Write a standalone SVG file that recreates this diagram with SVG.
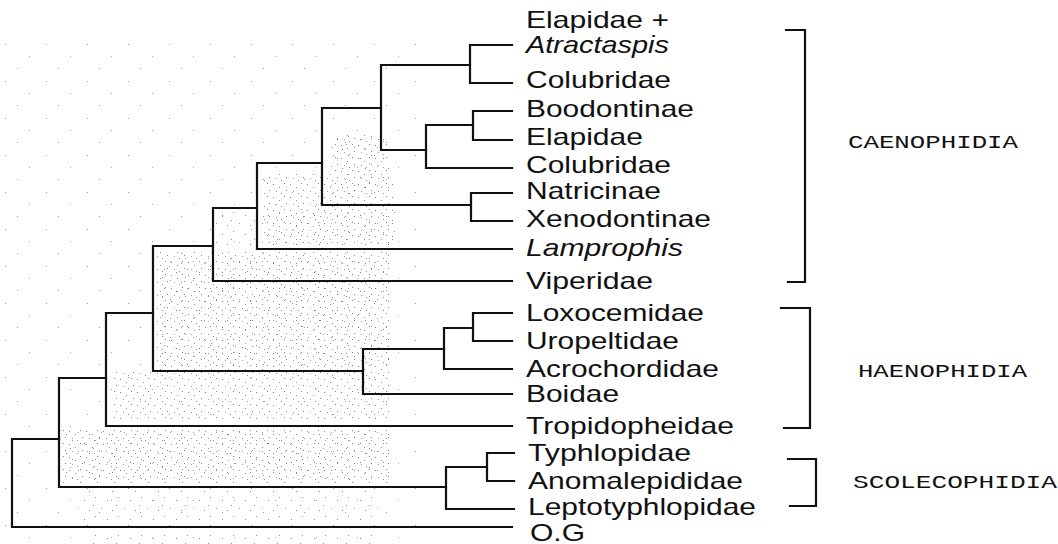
<svg xmlns="http://www.w3.org/2000/svg" width="1058" height="544" viewBox="0 0 1058 544">
<defs>
<style>
.br{fill:none;stroke:#111;stroke-width:2.2;stroke-linejoin:miter;stroke-linecap:square}
.lf{font-family:"Liberation Sans",Arial,sans-serif;font-size:24px;fill:#111}
.it{font-style:italic}
.cl{font-family:"Liberation Mono","Courier New",monospace;font-size:18px;fill:#111}
</style>
<pattern id="d1" width="17" height="13" patternUnits="userSpaceOnUse">
<rect x="1" y="2" width="1" height="1" fill="#666"/><rect x="7" y="5" width="1" height="1" fill="#777"/><rect x="12" y="1" width="1" height="1" fill="#666"/><rect x="4" y="9" width="1" height="1" fill="#888"/><rect x="14" y="8" width="1" height="1" fill="#666"/><rect x="9" y="11" width="1" height="1" fill="#777"/>
</pattern>
<pattern id="d2" width="23" height="19" patternUnits="userSpaceOnUse">
<rect x="3" y="3" width="1" height="1" fill="#777"/><rect x="15" y="6" width="1" height="1" fill="#666"/><rect x="9" y="14" width="1" height="1" fill="#888"/><rect x="20" y="16" width="1" height="1" fill="#666"/><rect x="1" y="11" width="1" height="1" fill="#777"/>
</pattern>
<pattern id="d3" width="41" height="37" patternUnits="userSpaceOnUse">
<rect x="5" y="7" width="1" height="1" fill="#999"/><rect x="29" y="19" width="1" height="1" fill="#aaa"/><rect x="17" y="31" width="1" height="1" fill="#999"/>
</pattern>
</defs>
<rect width="1058" height="544" fill="#fff"/>
<g id="stipple">
<path fill="url(#d3)" d="M0,40H420V544H0Z"/>
<g opacity="0.8">
<path fill="url(#d1)" d="M333,133H388V197H333Z M263,172H393V245H263Z M157,250H390V370H157Z M113,372H390V420H113Z M63,430H390V483H63Z"/>
<path fill="url(#d2)" d="M215,212H395V250H215Z M73,490H380V520H73Z M90,532H380V544H90Z M330,135H390V195H330Z M160,255H390V365H160Z M65,432H390V480H65Z"/>
</g>
</g>
<g id="connectors">
<path class="br" d="M512,45H470V83H512"/>
<path class="br" d="M512,111H473V140H512"/>
<path class="br" d="M473,125H426V168H512"/>
<path class="br" d="M470,65H381V150H426"/>
<path class="br" d="M512,193H471V221H512"/>
<path class="br" d="M381,108H322V205H471"/>
<path class="br" d="M322,163H257V249H512"/>
<path class="br" d="M257,208H213V281H512"/>
<path class="br" d="M512,313H473V341H512"/>
<path class="br" d="M473,328H444V369H512"/>
<path class="br" d="M444,349H363V394H512"/>
<path class="br" d="M213,246H153V371H363"/>
<path class="br" d="M153,313H106V426H512"/>
<path class="br" d="M514,453H487V481H514"/>
<path class="br" d="M487,467H446V509H514"/>
<path class="br" d="M106,378H59V487H446"/>
<path class="br" d="M59,439H12V527H512"/>
</g>
<g id="brackets">
<path class="br" d="M786,30H805V282H788"/>
<path class="br" d="M781,308H810V428H784"/>
<path class="br" d="M788,459H816V506H790"/>
</g>
<g id="leaf-elapidae-atractaspis"><text class="lf" x="526" y="28" textLength="143" lengthAdjust="spacingAndGlyphs">Elapidae +</text><text class="lf it" x="526" y="53" textLength="143" lengthAdjust="spacingAndGlyphs">Atractaspis</text></g>
<g id="leaf-colubridae-1"><text class="lf" x="526" y="88" textLength="145" lengthAdjust="spacingAndGlyphs">Colubridae</text></g>
<g id="leaf-boodontinae"><text class="lf" x="526" y="117" textLength="168" lengthAdjust="spacingAndGlyphs">Boodontinae</text></g>
<g id="leaf-elapidae"><text class="lf" x="526" y="145" textLength="117" lengthAdjust="spacingAndGlyphs">Elapidae</text></g>
<g id="leaf-colubridae-2"><text class="lf" x="526" y="173" textLength="145" lengthAdjust="spacingAndGlyphs">Colubridae</text></g>
<g id="leaf-natricinae"><text class="lf" x="526" y="199" textLength="135" lengthAdjust="spacingAndGlyphs">Natricinae</text></g>
<g id="leaf-xenodontinae"><text class="lf" x="526" y="227" textLength="185" lengthAdjust="spacingAndGlyphs">Xenodontinae</text></g>
<g id="leaf-lamprophis"><text class="lf it" x="526" y="256" textLength="157" lengthAdjust="spacingAndGlyphs">Lamprophis</text></g>
<g id="leaf-viperidae"><text class="lf" x="526" y="289" textLength="127" lengthAdjust="spacingAndGlyphs">Viperidae</text></g>
<g id="leaf-loxocemidae"><text class="lf" x="526" y="321" textLength="178" lengthAdjust="spacingAndGlyphs">Loxocemidae</text></g>
<g id="leaf-uropeltidae"><text class="lf" x="526" y="349" textLength="153" lengthAdjust="spacingAndGlyphs">Uropeltidae</text></g>
<g id="leaf-acrochordidae"><text class="lf" x="526" y="377" textLength="193" lengthAdjust="spacingAndGlyphs">Acrochordidae</text></g>
<g id="leaf-boidae"><text class="lf" x="526" y="402" textLength="93" lengthAdjust="spacingAndGlyphs">Boidae</text></g>
<g id="leaf-tropidopheidae"><text class="lf" x="526" y="434" textLength="208" lengthAdjust="spacingAndGlyphs">Tropidopheidae</text></g>
<g id="leaf-typhlopidae"><text class="lf" x="528" y="461" textLength="163" lengthAdjust="spacingAndGlyphs">Typhlopidae</text></g>
<g id="leaf-anomalepididae"><text class="lf" x="528" y="489" textLength="215" lengthAdjust="spacingAndGlyphs">Anomalepididae</text></g>
<g id="leaf-leptotyphlopidae"><text class="lf" x="528" y="515" textLength="228" lengthAdjust="spacingAndGlyphs">Leptotyphlopidae</text></g>
<g id="leaf-og"><text class="lf" x="530" y="541" textLength="55" lengthAdjust="spacingAndGlyphs">O.G</text></g>
<g id="clade-caenophidia"><text class="cl" x="848" y="148" textLength="170" lengthAdjust="spacingAndGlyphs">CAENOPHIDIA</text></g>
<g id="clade-haenophidia"><text class="cl" x="858" y="377" textLength="169" lengthAdjust="spacingAndGlyphs">HAENOPHIDIA</text></g>
<g id="clade-scolecophidia"><text class="cl" x="853" y="488" textLength="204" lengthAdjust="spacingAndGlyphs">SCOLECOPHIDIA</text></g>
</svg>
